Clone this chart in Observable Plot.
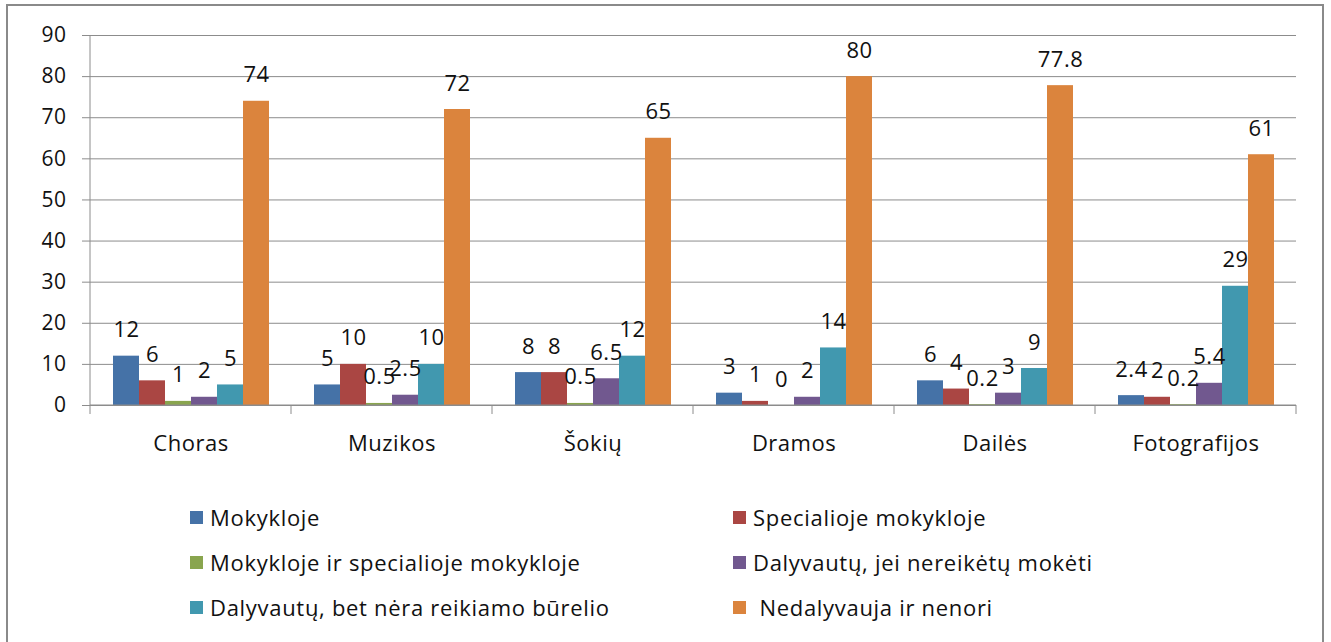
<!DOCTYPE html>
<html>
<head>
<meta charset="utf-8">
<script src="https://cdn.jsdelivr.net/npm/d3@7"></script>
<script src="https://cdn.jsdelivr.net/npm/@observablehq/plot@0.6"></script>
<style>
  html, body { margin: 0; padding: 0; background: #fff; width: 1331px; height: 642px; overflow: hidden; }
  body { position: relative; font-family: "Open Sans", "Noto Sans", sans-serif; color: #111; }
  #frame { position: absolute; left: 6px; top: 4px; width: 1318px; height: 700px; border: 2px solid #8a8a8a; box-sizing: border-box; pointer-events: none; }
  #chart { position: absolute; left: 0; top: 0; }
  #legend { position: absolute; left: 190px; top: 503px; display: grid; grid-template-columns: 543px 440px; row-gap: 17px; }
  .item { display: flex; align-items: center; font-size: 22px; height: 28px; white-space: pre; letter-spacing: 0.7px; }
  .sw { width: 13px; height: 13px; margin-right: 7px; flex: none; }
</style>
</head>
<body>
<div id="chart"></div>
<div id="legend"></div>
<div id="frame"></div>
<script>
const categories = ["Choras", "Muzikos", "Šokių", "Dramos", "Dailės", "Fotografijos"];
const seriesNames = [
  "Mokykloje",
  "Specialioje mokykloje",
  "Mokykloje ir specialioje mokykloje",
  "Dalyvautų, jei nereikėtų mokėti",
  "Dalyvautų, bet nėra reikiamo būrelio",
  "Nedalyvauja ir nenori"
];
const legendLabels = [
  "Mokykloje",
  "Specialioje mokykloje",
  "Mokykloje ir specialioje mokykloje",
  "Dalyvautų, jei nereikėtų mokėti",
  "Dalyvautų, bet nėra reikiamo būrelio",
  " Nedalyvauja ir nenori"
];
const seriesColors = ["#4572A7", "#AA4643", "#89A54E", "#71588F", "#4198AF", "#DB843D"];

const mokykloje          = [12, 5, 8, 3, 6, 2.4];
const specialioje        = [6, 10, 8, 1, 4, 2];
const abiejose           = [1, 0.5, 0.5, 0, 0.2, 0.2];
const jeiNereiketuMoketi = [2, 2.5, 6.5, 2, 3, 5.4];
const neraBurelio        = [5, 10, 12, 14, 9, 29];
const nedalyvauja        = [74, 72, 65, 80, 77.8, 61];
const yTicks = [0, 10, 20, 30, 40, 50, 60, 70, 80, 90];

const seriesValues = [mokykloje, specialioje, abiejose, jeiNereiketuMoketi, neraBurelio, nedalyvauja];
const data = [];
categories.forEach((c, i) => {
  seriesNames.forEach((s, j) => {
    data.push({category: c, series: s, value: seriesValues[j][i]});
  });
});

const font = "'Open Sans', 'Noto Sans', sans-serif";
const gridColor = "#8c8c8c";

const chart = Plot.plot({
  width: 1331,
  height: 470,
  marginLeft: 88,
  marginRight: 33,
  marginTop: 35,
  marginBottom: 65,
  style: {fontFamily: font, fontSize: "22px", letterSpacing: "0.5px", color: "#111", background: "transparent"},
  fx: {domain: categories, padding: 0, axis: "bottom", tickSize: 0, tickPadding: 30, label: null},
  x: {domain: seriesNames, paddingInner: 0, paddingOuter: 0.75, axis: null},
  y: {domain: [0, 90], axis: null},
  color: {domain: seriesNames, range: seriesColors},
  marks: [
    Plot.ruleY(yTicks, {stroke: gridColor, strokeWidth: 1}),
    Plot.axisY(yTicks, {tickSize: 8, tickPadding: 16, stroke: gridColor, fill: "#111", fontSize: 21, tickFormat: d => String(d), label: null}),
    Plot.barY(data, {fx: "category", x: "series", y: "value", fill: "series", inset: 0}),
    Plot.text(data, {fx: "category", x: "series", y: "value", text: d => String(d.value), dy: -26, fontSize: 22, fill: "#111"}),
    Plot.frame({
      facet: "super",
      stroke: "none",
      render: (index, scales, values, dims) => {
        const {fx, y} = scales;
        const g = d3.create("svg:g").attr("stroke", gridColor).attr("stroke-width", 1);
        if (!fx || !y) return g.node();
        const y0 = y(0), yTop = y(90);
        const x0 = fx(categories[0]);
        g.append("line").attr("x1", x0).attr("x2", x0).attr("y1", yTop).attr("y2", y0);
        g.append("line").attr("x1", x0).attr("x2", fx(categories[categories.length - 1]) + fx.bandwidth()).attr("y1", y0).attr("y2", y0);
        const bounds = categories.map(c => fx(c)).concat([fx(categories[categories.length - 1]) + fx.bandwidth()]);
        for (const b of bounds) {
          g.append("line").attr("x1", b).attr("x2", b).attr("y1", y0).attr("y2", y0 + 9);
        }
        return g.node();
      }
    })
  ]
});
document.getElementById("chart").appendChild(chart);

const legend = document.getElementById("legend");
legendLabels.forEach((name, i) => {
  const item = document.createElement("div");
  item.className = "item";
  const sw = document.createElement("span");
  sw.className = "sw";
  sw.style.background = seriesColors[i];
  const t = document.createElement("span");
  t.textContent = name;
  item.appendChild(sw);
  item.appendChild(t);
  legend.appendChild(item);
});
</script>
</body>
</html>
